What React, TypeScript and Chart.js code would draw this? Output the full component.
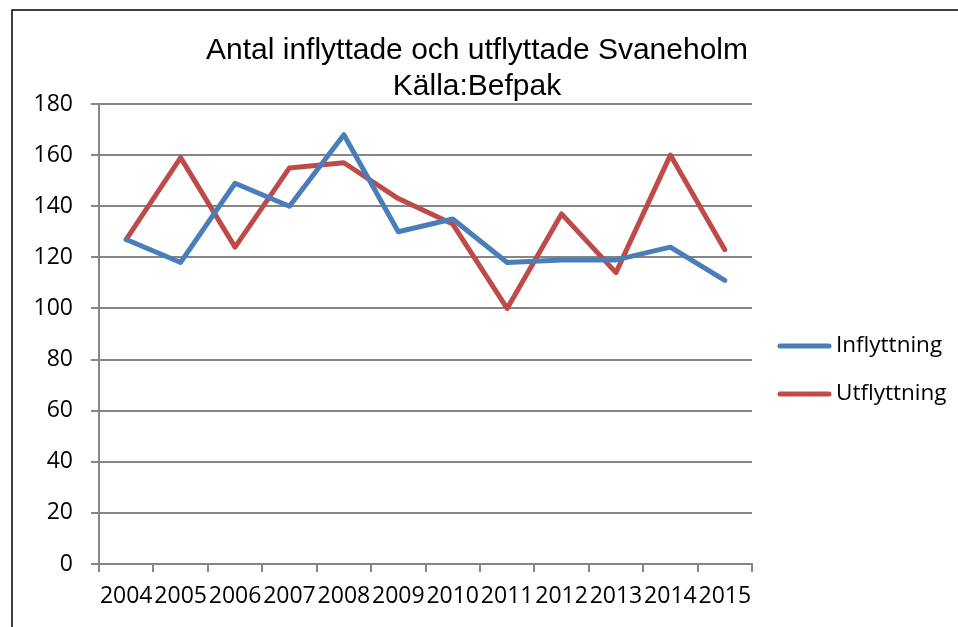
import React, { useEffect, useRef } from 'react';
import { Chart, registerables } from 'chart.js';

Chart.register(...registerables);

const TITLE_LINES = ['Antal inflyttade och utflyttade Svaneholm', 'Källa:Befpak'];
const YEARS = ['2004', '2005', '2006', '2007', '2008', '2009', '2010', '2011', '2012', '2013', '2014', '2015'];
const INFLYTTNING = [127, 118, 149, 140, 168, 130, 135, 118, 119, 119, 124, 111];
const UTFLYTTNING = [127, 159, 124, 155, 157, 143, 133, 100, 137, 114, 160, 123];
const SERIES_NAMES = ['Inflyttning', 'Utflyttning'];
const SERIES_COLORS = ['#4A7EBB', '#BE4B48'];
const Y_MIN = 0;
const Y_MAX = 180;
const Y_STEP = 20;

const W = 958;
const H = 627;
const GRID = '#868686';
const TICK_FONT = { family: '"Open Sans", sans-serif', size: 23 };

const decorPlugin = {
  id: 'decor',
  beforeDraw(chart: any) {
    const ctx = chart.ctx;
    ctx.save();
    ctx.fillStyle = '#ffffff';
    ctx.fillRect(0, 0, chart.width, chart.height);
    ctx.strokeStyle = '#000000';
    ctx.lineWidth = 1.5;
    ctx.beginPath();
    ctx.moveTo(12, H + 5);
    ctx.lineTo(12, 10);
    ctx.lineTo(W + 5, 10);
    ctx.stroke();
    ctx.restore();
  },
  afterDraw(chart: any) {
    const ctx = chart.ctx;
    ctx.save();
    // title
    ctx.fillStyle = '#000000';
    ctx.font = '30px "Liberation Sans", Arial, sans-serif';
    ctx.textAlign = 'center';
    ctx.textBaseline = 'alphabetic';
    const cx = 477;
    ctx.fillText(TITLE_LINES[0], cx, 59);
    ctx.fillText(TITLE_LINES[1], cx, 95);
    // legend
    const area = chart.chartArea;
    const lx = area.right + 26;
    chart.data.datasets.forEach((ds: any, i: number) => {
      const y = 346 + i * 48;
      ctx.strokeStyle = ds.borderColor;
      ctx.lineWidth = 5;
      ctx.lineCap = 'round';
      ctx.beginPath();
      ctx.moveTo(lx + 2, y);
      ctx.lineTo(lx + 51, y);
      ctx.stroke();
      ctx.fillStyle = '#000000';
      ctx.font = '22.5px "Open Sans", sans-serif';
      ctx.textAlign = 'left';
      ctx.textBaseline = 'middle';
      ctx.fillText(ds.label, lx + 58, y);
    });
    ctx.restore();
  },
};

export default function App() {
  const canvasRef = useRef<HTMLCanvasElement | null>(null);

  useEffect(() => {
    if (!canvasRef.current) return;
    const chart = new Chart(canvasRef.current, {
      type: 'line',
      data: {
        labels: YEARS,
        datasets: [
          {
            label: SERIES_NAMES[0],
            data: INFLYTTNING,
            borderColor: SERIES_COLORS[0],
            backgroundColor: SERIES_COLORS[0],
            borderWidth: 5,
            pointRadius: 0,
            tension: 0,
            borderJoinStyle: 'round',
            borderCapStyle: 'round',
          },
          {
            label: SERIES_NAMES[1],
            data: UTFLYTTNING,
            borderColor: SERIES_COLORS[1],
            backgroundColor: SERIES_COLORS[1],
            borderWidth: 5,
            pointRadius: 0,
            tension: 0,
            borderJoinStyle: 'round',
            borderCapStyle: 'round',
          },
        ],
      },
      options: {
        responsive: false,
        animation: false,
        devicePixelRatio: 1,
        layout: { padding: { top: 104, right: 206, bottom: 0, left: 0 } },
        plugins: {
          legend: { display: false },
          title: { display: false },
          tooltip: { enabled: false },
        },
        scales: {
          x: {
            type: 'category',
            offset: true,
            grid: {
              offset: true,
              drawOnChartArea: false,
              drawTicks: true,
              tickLength: 8,
              color: GRID,
              lineWidth: 2,
            },
            border: { display: true, color: GRID, width: 2 },
            ticks: {
              font: TICK_FONT,
              color: '#000000',
              padding: 11,
              maxRotation: 0,
              minRotation: 0,
              autoSkip: false,
            },
            afterFit: (s: any) => {
              s.height = 63;
            },
          },
          y: {
            min: Y_MIN,
            max: Y_MAX,
            grid: {
              color: GRID,
              lineWidth: 2,
              tickLength: 8,
              drawTicks: true,
            },
            border: { display: true, color: GRID, width: 2 },
            ticks: {
              stepSize: Y_STEP,
              font: TICK_FONT,
              color: '#000000',
              padding: 18,
            },
            afterFit: (s: any) => {
              s.width = 99;
            },
          },
        },
      },
      plugins: [decorPlugin],
    });
    return () => chart.destroy();
  }, []);

  return (
    <div style={{ position: 'fixed', left: 0, top: 0, width: W, height: H, background: '#fff' }}>
      <canvas ref={canvasRef} width={W} height={H} style={{ display: 'block' }} />
    </div>
  );
}
